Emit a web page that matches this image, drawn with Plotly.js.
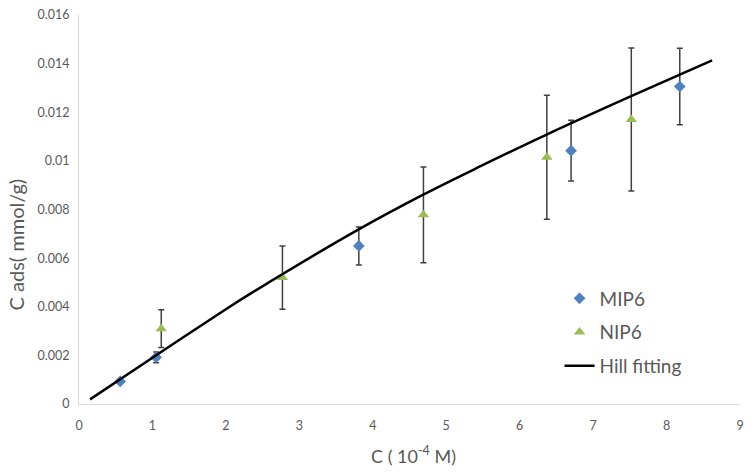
<!DOCTYPE html>
<html>
<head>
<meta charset="utf-8">
<script src="https://cdn.plot.ly/plotly-3.0.1.min.js"></script>
<style>html,body{margin:0;padding:0;background:#fff;}#chart{width:756px;height:474px;}</style>
</head>
<body>
<div id="chart"></div>
<script>
// MIP6 data
const mipX = [0.56, 1.05, 3.81, 6.70, 8.18];
const mipY = [0.00093, 0.00192, 0.0065, 0.01042, 0.01306];
const mipErr = [0.00006, 0.00022, 0.00078, 0.00125, 0.00157];
// NIP6 data
const nipX = [1.12, 2.77, 4.69, 6.37, 7.52];
const nipY = [0.0031, 0.0052, 0.00778, 0.01015, 0.0117];
const nipErr = [0.00078, 0.0013, 0.00197, 0.00255, 0.00294];
// Hill fitting curve
const hillX = [0.15, 1.0, 2.0, 2.34, 3.79, 4.68, 5.46, 6.36, 7.51, 8.62];
const hillY = [0.00019, 0.0019, 0.0039, 0.00455, 0.00715, 0.0086, 0.00977, 0.01107, 0.01265, 0.01413];
const xTicks = [0, 1, 2, 3, 4, 5, 6, 7, 8, 9];
const yTicks = [0, 0.002, 0.004, 0.006, 0.008, 0.01, 0.012, 0.014, 0.016];
const yTickText = ["0", "0.002", "0.004", "0.006", "0.008", "0.01", "0.012", "0.014", "0.016"];
const xTitle = 'C ( 10<sup>-4</sup> M)';
const yTitle = 'C ads( mmol/g)';

const FONT = "Lato, 'Open Sans', sans-serif";
const GREY = '#595959';
const errStyle = {type: 'data', visible: true, thickness: 1.5, width: 3, color: '#404040'};

const traces = [
  {x: mipX, y: mipY, name: 'MIP6', legendgroup: 'a', mode: 'markers', type: 'scatter',
   marker: {symbol: 'diamond', size: 9, color: '#4f81bd'},
   error_y: Object.assign({array: mipErr}, errStyle)},
  {x: nipX, y: nipY, name: 'NIP6', legendgroup: 'b', mode: 'markers', type: 'scatter',
   marker: {symbol: 'triangle-up', size: 10, color: '#9bbb59'},
   error_y: Object.assign({array: nipErr}, errStyle)},
  {x: hillX, y: hillY, name: 'Hill fitting', legendgroup: 'c', mode: 'lines', type: 'scatter',
   line: {color: '#000000', width: 2.5, shape: 'spline', smoothing: 1}}
];

const layout = {
  width: 756, height: 474,
  margin: {l: 79, r: 16, t: 15, b: 70},
  paper_bgcolor: '#ffffff', plot_bgcolor: '#ffffff',
  font: {family: FONT, color: GREY, size: 12},
  showlegend: true,
  legend: {x: 0.727, y: 0.32, xanchor: 'left', yanchor: 'top',
           font: {family: FONT, size: 19, color: GREY},
           bgcolor: 'rgba(0,0,0,0)', tracegroupgap: 6, itemwidth: 30},
  xaxis: {range: [0, 9], tickvals: xTicks, showgrid: false, zeroline: false,
          showline: true, linecolor: '#d9d9d9', linewidth: 1, ticks: '',
          ticklabelstandoff: 10,
          tickfont: {family: FONT, size: 12.5, color: GREY}},
  yaxis: {range: [0, 0.016], tickvals: yTicks, ticktext: yTickText, showgrid: false, zeroline: false,
          showline: true, linecolor: '#d9d9d9', linewidth: 1, ticks: '',
          ticklabelstandoff: 6,
          tickfont: {family: FONT, size: 12.5, color: GREY}},
  annotations: [
    {text: xTitle, xref: 'paper', yref: 'paper', x: 0.506, y: -0.131, xanchor: 'center', yanchor: 'middle',
     showarrow: false, font: {family: FONT, size: 18, color: GREY}},
    {text: yTitle, xref: 'paper', yref: 'paper', x: -0.096, y: 0.409, xanchor: 'center', yanchor: 'middle',
     textangle: -90, showarrow: false, font: {family: FONT, size: 20, color: GREY}}
  ]
};

Plotly.newPlot('chart', traces, layout, {displayModeBar: false, staticPlot: true});
</script>
</body>
</html>
